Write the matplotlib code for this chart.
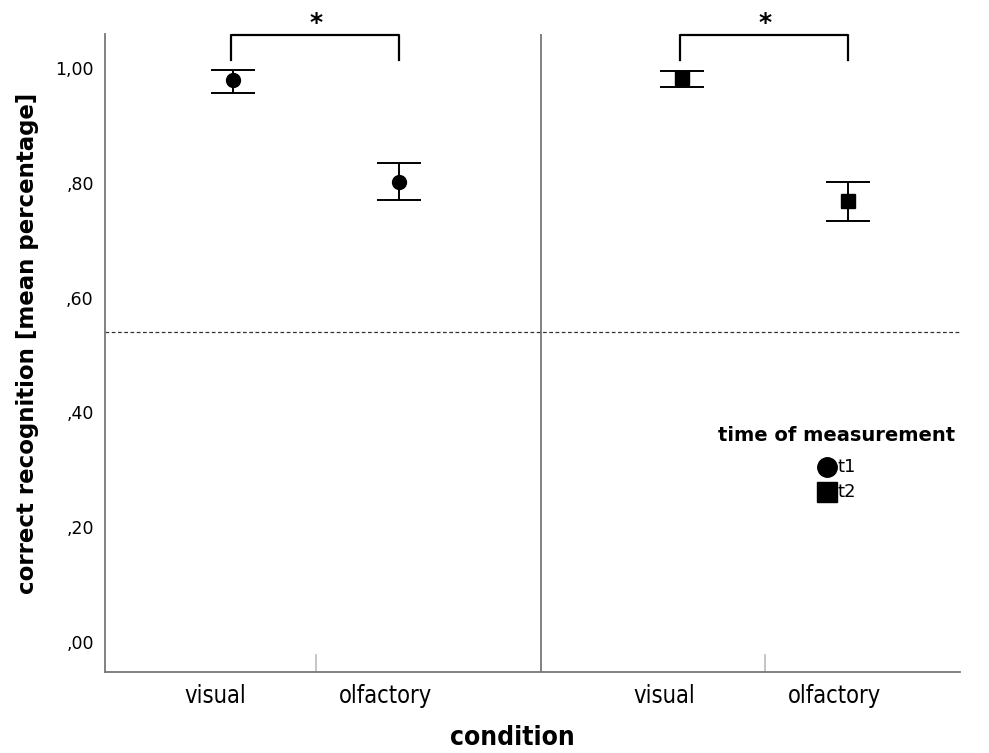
import matplotlib.pyplot as plt

# data
conditions = ['visual', 'olfactory']
t1_mean = [0.979, 0.801]
t1_low = [0.956, 0.770]
t1_high = [0.997, 0.834]
t2_mean = [0.983, 0.768]
t2_low = [0.967, 0.733]
t2_high = [0.995, 0.801]
chance = 0.54
yticks = [0.0, 0.2, 0.4, 0.6, 0.8, 1.0]
ytick_labels = [',00', ',20', ',40', ',60', ',80', '1,00']

fig = plt.figure(figsize=(9.89, 7.53), dpi=100)
ax = fig.add_axes([0.106, 0.1076, 0.865, 0.8472])

offs = [-0.185, 0.185]
groups = [(0, t1_mean, t1_low, t1_high, 'o'), (1, t2_mean, t2_low, t2_high, 's')]
for center, m, lo, hi, mk in groups:
    xs = [center + o for o in offs]
    yerr = [[m[i] - lo[i] for i in range(2)], [hi[i] - m[i] for i in range(2)]]
    ax.errorbar(xs, m, yerr=yerr, fmt=mk, color='black', markersize=10,
                capsize=16, elinewidth=1.4, capthick=1.4, zorder=3)
    # significance bracket
    ax.plot([xs[0] - 0.004, xs[0] - 0.004, xs[1], xs[1]], [1.014, 1.057, 1.057, 1.014],
            color='black', lw=1.6, clip_on=False)
    ax.text((xs[0] + xs[1]) / 2, 1.058, '*', ha='center', va='bottom',
            fontsize=18, fontweight='bold')
    # group tick
    ax.plot([center, center], [-0.0523, -0.023], color='#bbbbbb', lw=1.2)
    for o, lab in zip([-0.225, 0.155], conditions):
        ax.text(center + o, -0.073, lab, ha='center', va='top',
                fontsize=17, family='DejaVu Sans', fontstretch='condensed')

ax.axvline(0.5, color='#777777', lw=1.3)
ax.axhline(chance, color='#333333', lw=0.9, ls=(0, (3, 2)))

ax.set_xlim(-0.47, 1.434)
ax.set_ylim(-0.0523, 1.059)
ax.set_xticks([])
ax.set_yticks(yticks)
ax.set_yticklabels(ytick_labels, fontsize=12.5)
ax.tick_params(axis='y', length=0, pad=8)
for s in ['top', 'right']:
    ax.spines[s].set_visible(False)
ax.spines['left'].set_color('#777777')
ax.spines['bottom'].set_color('#777777')
ax.spines['left'].set_linewidth(1.3)
ax.spines['bottom'].set_linewidth(1.3)

ax.set_ylabel('correct recognition [mean percentage]', fontsize=16.5,
              fontweight='bold')
ax.yaxis.set_label_coords(-0.077, 0.515)
fig.text(0.518, 0.003, 'condition', ha='center', va='bottom', fontsize=19,
         fontweight='bold', family='DejaVu Sans', fontstretch='condensed')

# legend
fig.text(0.846, 0.422, 'time of measurement', ha='center', va='center',
         fontsize=14, fontweight='bold')
ax.plot([1.138], [0.304], 'o', color='black', markersize=14, clip_on=False)
ax.plot([1.138], [0.262], 's', color='black', markersize=14, clip_on=False)
ax.text(1.160, 0.304, 't1', va='center', fontsize=13)
ax.text(1.160, 0.262, 't2', va='center', fontsize=13)

fig.savefig('out.png', dpi=100)
